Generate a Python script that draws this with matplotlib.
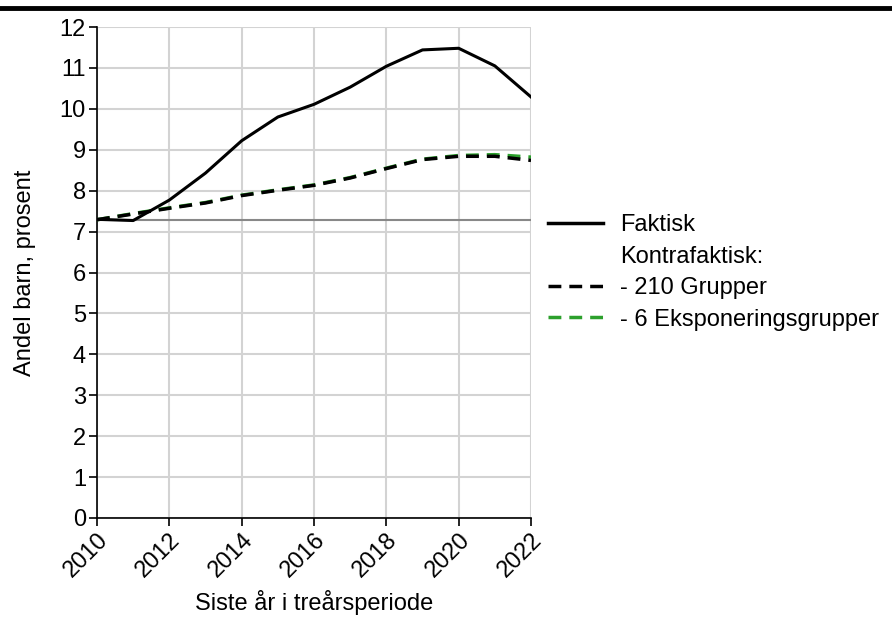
import matplotlib.pyplot as plt
from matplotlib.lines import Line2D

plt.rcParams['font.family'] = ['Liberation Sans', 'DejaVu Sans']

years = list(range(2010, 2023))
faktisk = [7.30, 7.27, 7.77, 8.43, 9.22, 9.80, 10.11, 10.53, 11.04, 11.44, 11.48, 11.05, 10.29]
grupper_210 = [7.29, 7.43, 7.57, 7.70, 7.88, 8.01, 8.13, 8.31, 8.54, 8.76, 8.84, 8.84, 8.74]
eksp_6 = [7.29, 7.44, 7.58, 7.71, 7.89, 8.02, 8.14, 8.32, 8.55, 8.77, 8.86, 8.88, 8.82]
baseline = 7.29

dash = (0, (3.7, 2.3))

fig = plt.figure(figsize=(8.92, 6.17), dpi=100)
ax = fig.add_axes([97 / 892, 1 - 518 / 617, (531 - 97) / 892, (518 - 27) / 617])

ax.axhline(baseline, color='#888888', lw=1.5, zorder=2)
ax.plot(years, faktisk, color='black', lw=2.2, zorder=4)
ax.plot(years, eksp_6, color='#2ca02c', lw=2.5, ls=dash, zorder=3)
ax.plot(years, grupper_210, color='black', lw=2.5, ls=dash, zorder=4)

ax.set_xlim(2010, 2022)
ax.set_ylim(0, 12)
ax.set_xticks(range(2010, 2023, 2))
ax.set_yticks(range(0, 13))
ax.grid(True, color='#d3d3d3', lw=1.5, zorder=0)
ax.set_axisbelow(True)
for s in ['top', 'right']:
    ax.spines[s].set_visible(False)
for s in ['left', 'bottom']:
    ax.spines[s].set_linewidth(1.2)
ax.tick_params(labelsize=17, length=6, width=1.2, pad=2)
plt.setp(ax.get_xticklabels(), rotation=45, ha='right', rotation_mode='anchor')
ax.set_xlabel('Siste år i treårsperiode', fontsize=17, labelpad=6)
ax.set_ylabel('Andel barn, prosent', fontsize=17, labelpad=17)

handles = [
    Line2D([], [], color='black', lw=2.5),
    Line2D([], [], color='none'),
    Line2D([], [], color='black', lw=2.5, ls=dash),
    Line2D([], [], color='#2ca02c', lw=2.5, ls=dash),
]
labels = ['Faktisk', 'Kontrafaktisk:', '- 210 Grupper', '- 6 Eksponeringsgrupper']
ax.legend(handles, labels, loc='center left', bbox_to_anchor=(0.99, 0.5),
          frameon=False, fontsize=17, handlelength=2.35, handletextpad=0.72,
          labelspacing=0.4)

fig.add_artist(Line2D([0, 1], [1 - 7.5 / 617, 1 - 7.5 / 617], color='black', lw=3.5))

fig.savefig('out.png', dpi=100)
